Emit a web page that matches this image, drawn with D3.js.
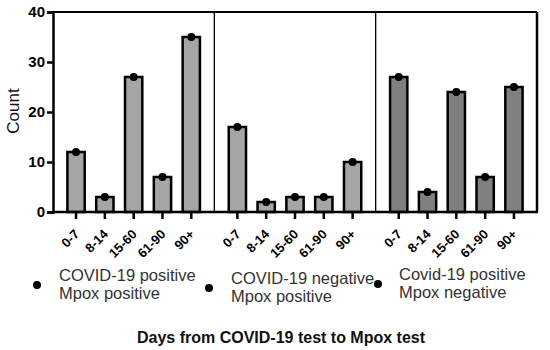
<!DOCTYPE html>
<html><head><meta charset="utf-8">
<script src="https://cdn.jsdelivr.net/npm/d3@7"></script>
<style>body{margin:0;background:#fff}svg{display:block}</style>
</head><body>
<svg id="c" width="550" height="350"></svg>
<script>
const categories = ["0-7","8-14","15-60","61-90","90+"];
const groups = ["COVID-19 positive\nMpox positive","COVID-19 negative\nMpox positive","Covid-19 positive\nMpox negative"];
const valuesPosPos = [12, 3, 27, 7, 35];
const valuesNegPos = [17, 2, 3, 3, 10];
const valuesPosNeg = [27, 4, 24, 7, 25];
const yTicks = [0, 10, 20, 30, 40];
const barColors = ["#a5a5a5", "#a5a5a5", "#808080"];
const series = [valuesPosPos, valuesNegPos, valuesPosNeg];

const FONT = "Arial, 'Liberation Sans', sans-serif";
const svg = d3.select("#c");
const L = 53, R = 537, T = 12, B = 212;
const y = d3.scaleLinear().domain([0, 40]).range([B, T]);
const xg = d3.scaleBand().domain(d3.range(3)).range([L, R]).padding(0);
const xc = d3.scaleBand().domain(categories).range([0, xg.bandwidth()]).paddingInner(0.4).paddingOuter(0.5);

// frame
svg.append("line").attr("x1", L).attr("x2", R).attr("y1", T).attr("y2", T).attr("stroke", "#000").attr("stroke-width", 2);
[1, 2].forEach(i => svg.append("line").attr("x1", xg(i)).attr("x2", xg(i)).attr("y1", T).attr("y2", B).attr("stroke", "#000").attr("stroke-width", 1.3));
svg.append("line").attr("x1", R).attr("x2", R).attr("y1", T).attr("y2", B).attr("stroke", "#000").attr("stroke-width", 2.5);

// y axis
const ya = svg.append("g").attr("transform", `translate(${L},0)`)
  .call(d3.axisLeft(y).tickValues(yTicks).tickSize(6).tickPadding(2));
ya.select(".domain").attr("stroke-width", 2.5);
ya.selectAll(".tick line").attr("stroke-width", 2.5);
ya.selectAll("text").attr("font-family", FONT).attr("font-size", 15).attr("font-weight", "bold").attr("fill", "#000");

svg.append("text").attr("transform", "translate(19,111) rotate(-90)").attr("text-anchor", "middle")
  .attr("font-family", FONT).attr("font-size", 17).attr("fill", "#111").text("Count");

series.forEach((vals, gi) => {
  const g = svg.append("g").attr("transform", `translate(${xg(gi)},0)`);
  g.selectAll("rect").data(vals).join("rect")
    .attr("x", (d, i) => xc(categories[i]))
    .attr("width", xc.bandwidth())
    .attr("y", d => y(d))
    .attr("height", d => y(0) - y(d))
    .attr("fill", barColors[gi]).attr("stroke", "#000").attr("stroke-width", 2.5);
  g.selectAll("circle").data(vals).join("circle")
    .attr("cx", (d, i) => xc(categories[i]) + xc.bandwidth() / 2)
    .attr("cy", d => y(d)).attr("r", 4).attr("fill", "#000");
  const xa = g.append("g").attr("transform", `translate(0,${B})`)
    .call(d3.axisBottom(xc).tickSize(7).tickSizeOuter(0));
  xa.select(".domain").remove();
  xa.selectAll(".tick line").attr("stroke-width", 2.5);
  xa.selectAll("text").attr("font-family", FONT).attr("font-size", 13).attr("font-weight", "bold").attr("fill", "#000")
    .attr("text-anchor", "end").attr("dy", null).attr("y", 0)
    .attr("transform", "translate(4,23) rotate(-45)");
});
// x baseline
svg.append("line").attr("x1", L - 1).attr("x2", R + 1).attr("y1", B).attr("y2", B).attr("stroke", "#000").attr("stroke-width", 2.5);

// legend
const legPos = [[37, 285, 59, 281], [209, 288, 231, 284], [378, 284, 399, 280]];
groups.forEach((t, i) => {
  const [cx, cy, tx, ty] = legPos[i];
  svg.append("circle").attr("cx", cx).attr("cy", cy).attr("r", 4).attr("fill", "#000");
  const txt = svg.append("text").attr("x", tx).attr("y", ty).attr("font-family", FONT).attr("font-size", 16.5).attr("fill", "#333");
  t.split("\n").forEach((line, j) => txt.append("tspan").attr("x", tx).attr("dy", j ? 18 : 0).text(line));
});

svg.append("text").attr("x", 281).attr("y", 343).attr("text-anchor", "middle")
  .attr("font-family", FONT).attr("font-size", 16).attr("font-weight", "bold").attr("fill", "#111")
  .text("Days from COVID-19 test to Mpox test");
</script>
</body></html>
